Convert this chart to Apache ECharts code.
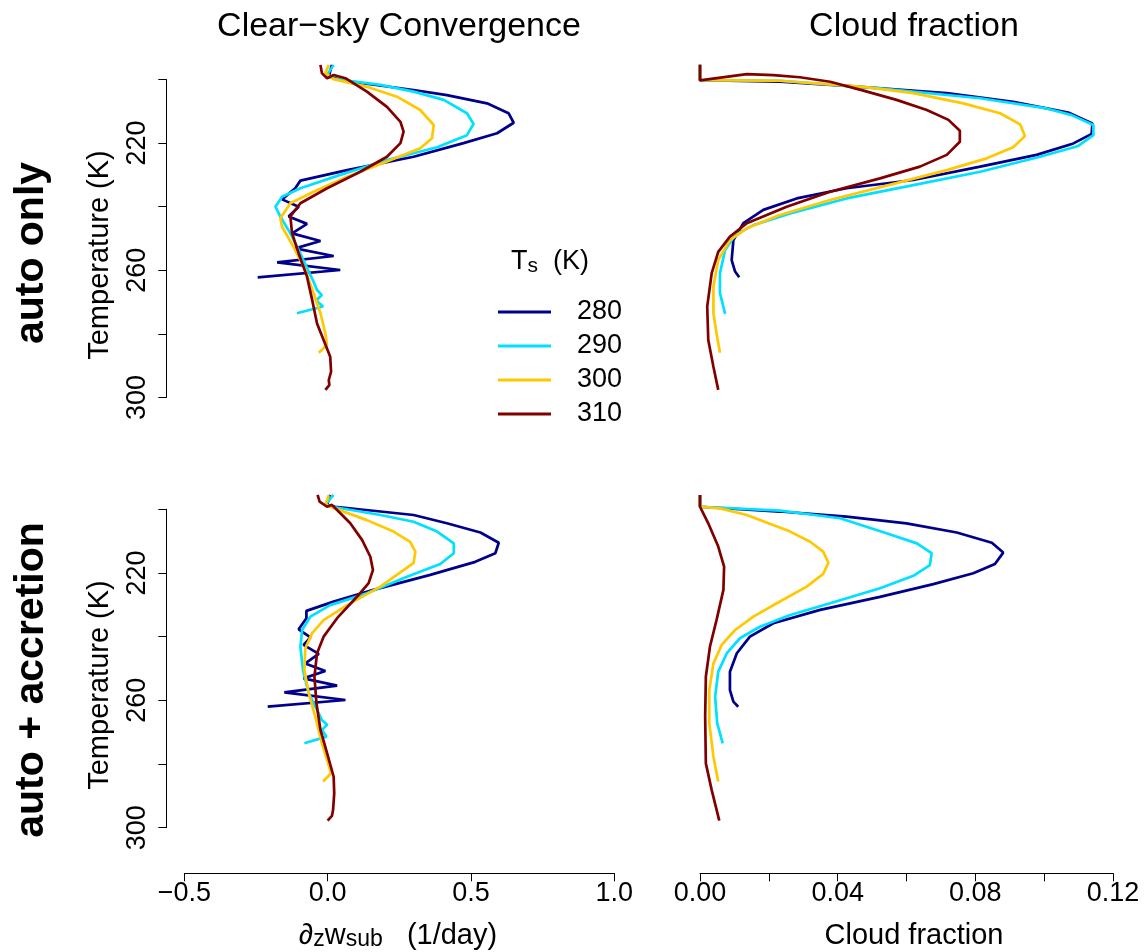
<!DOCTYPE html>
<html lang="en">

<head>
  <meta charset="UTF-8">
  <script src="https://cdn.jsdelivr.net/npm/echarts@6/dist/echarts.min.js"></script>
</head>

<body style="margin:0;background:#fff;">
  <div id="profilesChart" style="width:1145px;height:952px;"></div>

  <script type="text/javascript">

    // surface temperatures, one line per value
    var surfaceTemps = ['280', '290', '300', '310'];
    var lineColors = ['#00008B', '#00E0FF', '#FFC800', '#800000'];

    // tick labels that are printed
    var tempLabels = [220, 260, 300];
    var convLabels = [-0.5, 0.0, 0.5, 1.0];
    var cloudLabels = [0.00, 0.04, 0.08, 0.12];

    // [value, temperature K] -- auto only, clear-sky convergence (1/day)
    var convAuto280 = [[0.015,195.4],[0.004,199.1],[0.056,200.4],[0.30,203.3],[0.416,204.9],[0.556,207.5],[0.631,210.6],[0.649,213.6],[0.591,216.9],[0.474,220],[0.30,224.3],[0.068,228.5],[-0.095,231.8],[-0.113,234.2],[-0.159,237.7],[-0.101,240],[-0.136,243.1],[-0.072,245.4],[-0.124,248.4],[-0.025,250.8],[-0.113,253.1],[0.021,255.5],[-0.176,257.5],[0.044,259.9],[-0.244,262.2]];
    var convAuto290 = [[0.021,195.4],[-0.002,198.6],[0.027,199.9],[0.184,201.7],[0.30,203.8],[0.405,206.4],[0.486,210.6],[0.509,214],[0.486,217.5],[0.382,221.3],[0.207,225.3],[0.044,230],[-0.095,234.2],[-0.159,236.9],[-0.182,240],[-0.165,243.1],[-0.130,248.4],[-0.095,254.7],[-0.066,260.4],[-0.049,263.6],[-0.037,266.2],[-0.020,267.8],[-0.040,269.5],[-0.016,271.4],[-0.107,273.5]];
    var convAuto300 = [[0.004,195.4],[-0.008,198],[0.02,199.9],[0.137,202.3],[0.242,205.4],[0.323,209.6],[0.370,214.3],[0.364,218.5],[0.323,221.6],[0.207,225.8],[0.068,230.6],[-0.049,235.3],[-0.130,238.9],[-0.165,243.6],[-0.159,246.3],[-0.119,252.6],[-0.078,259.9],[-0.049,267.2],[-0.025,273.5],[-0.008,279.8],[-0.002,283.5],[-0.031,285.9]];
    var convAuto310 = [[-0.025,195.4],[-0.020,198],[-0.002,199.6],[0.021,198.6],[0.062,199.6],[0.137,203.8],[0.207,208.6],[0.254,213.3],[0.265,216.4],[0.254,220],[0.207,224.3],[0.114,229],[-0.002,234.2],[-0.095,238.9],[-0.130,243.1],[-0.124,248.4],[-0.101,254.7],[-0.072,262],[-0.054,269.3],[-0.037,276.7],[-0.014,281.9],[0.009,287.2],[0.012,291.9],[0.004,294.5],[0.006,296.1],[-0.008,297.6]];

    // auto only, cloud fraction
    var cloudAuto280 = [[0,195.4],[0,200.2],[0.0232,200.7],[0.0426,202],[0.0717,204.3],[0.091,207],[0.107,210.4],[0.114,213.8],[0.1138,217.1],[0.1085,220.1],[0.0978,223.7],[0.0814,227.4],[0.062,231.6],[0.0426,234.2],[0.0281,237.4],[0.0184,241],[0.0126,245.2],[0.0097,250.5],[0.0092,256.8],[0.0102,260.4],[0.0114,262.2]];
    var cloudAuto290 = [[0,195.4],[0,200.2],[0.0232,200.4],[0.0523,202.8],[0.0814,205.9],[0.1007,209.1],[0.108,211.2],[0.1143,214.3],[0.1143,217.5],[0.1099,220.9],[0.0988,224.3],[0.0814,229],[0.062,233.2],[0.0426,237.4],[0.0262,242.1],[0.0155,245.8],[0.0102,248.9],[0.0073,253.6],[0.0058,260.9],[0.0058,267.2],[0.0073,273.7]];
    var cloudAuto300 = [[0,195.4],[0,200.2],[0.0232,200.4],[0.0475,202.3],[0.062,204.3],[0.0765,207.5],[0.0872,210.6],[0.093,214.1],[0.0944,217.8],[0.091,221.3],[0.0833,224.8],[0.0717,228.5],[0.0571,232.6],[0.0378,237.9],[0.0232,242.6],[0.0136,246.8],[0.0087,250.5],[0.0053,256.8],[0.0039,265.2],[0.0039,273.5],[0.0048,279.8],[0.0058,285.9]];
    var cloudAuto310 = [[0,195.4],[0,200.3],[0.0136,198.3],[0.0213,198.6],[0.029,199.3],[0.0378,200.7],[0.0475,203.5],[0.0571,206.4],[0.0659,209.6],[0.0722,212.7],[0.0755,216.1],[0.0755,219.6],[0.0717,223.7],[0.0639,227.4],[0.0523,231.1],[0.0378,235.3],[0.0252,240],[0.0136,245.2],[0.0087,249.4],[0.0053,254.2],[0.0034,260.9],[0.0021,271.4],[0.0024,281.9],[0.0039,290.3],[0.0053,297.6]];

    // auto + accretion, clear-sky convergence
    var convAccr280 = [[0.009,195.5],[-0.002,198.6],[0.027,199.2],[0.30,201.8],[0.416,204.4],[0.533,207.3],[0.597,210.5],[0.585,213.8],[0.515,216.5],[0.358,220.6],[0.16,225.3],[0.021,229],[-0.074,231.9],[-0.074,234.2],[-0.101,237.7],[-0.06,240.2],[-0.084,242.6],[-0.031,245.4],[-0.078,248.4],[-0.008,250.8],[-0.084,253.1],[0.033,255.4],[-0.151,257.5],[0.062,259.9],[-0.209,262]];
    var convAccr290 = [[0.02,195.5],[-0.008,198.6],[0.016,199.2],[0.184,201.8],[0.30,203.9],[0.382,207],[0.44,210.7],[0.44,213.8],[0.393,217.2],[0.277,221.2],[0.137,226.4],[0.009,230.1],[-0.06,233.7],[-0.089,237.9],[-0.095,243.2],[-0.086,250.5],[-0.066,257.8],[-0.037,263],[-0.02,266.2],[-0.002,267.7],[-0.02,269.3],[-0.004,271.4],[-0.081,273.5]];
    var convAccr300 = [[0.004,195.6],[-0.008,198.6],[0.016,199.4],[0.137,203.4],[0.23,207],[0.288,210.2],[0.306,213.3],[0.30,216.8],[0.184,224.3],[0.068,230.1],[-0.014,234.8],[-0.054,238.9],[-0.078,243.7],[-0.081,250.5],[-0.066,257.8],[-0.043,265.1],[-0.02,273.5],[-0.002,278.7],[0.012,282.9],[-0.016,285.5]];
    var convAccr310 = [[-0.035,195.5],[-0.028,197.6],[-0.002,199.2],[0.015,198.6],[0.033,200.2],[0.079,204.4],[0.12,209.6],[0.149,214.9],[0.158,219.1],[0.143,223.2],[0.103,227.4],[0.033,234.2],[-0.014,240],[-0.037,245.2],[-0.046,252.6],[-0.039,260.9],[-0.025,269.3],[-0.002,276.6],[0.021,284],[0.023,289.2],[0.019,294.4],[0.015,296.3],[0,297.8]];

    // auto + accretion, cloud fraction
    var cloudAccr280 = [[0,195.5],[0,199.2],[0.0232,200.7],[0.0426,202.3],[0.06,204.4],[0.0746,207.3],[0.0848,210.5],[0.0881,213.6],[0.0857,217.2],[0.0794,220.1],[0.0678,223.5],[0.0523,227.5],[0.0349,231.6],[0.0213,235.8],[0.0145,240],[0.0107,245.2],[0.0087,251],[0.0087,256.8],[0.0097,260.4],[0.0111,262]];
    var cloudAccr290 = [[0,195.5],[0,199.2],[0.0232,200.4],[0.0407,202.8],[0.0542,207.5],[0.063,210.7],[0.0673,213.8],[0.0668,217.5],[0.062,220.9],[0.0523,224.8],[0.0378,229.5],[0.0262,233.2],[0.0174,236.9],[0.0116,240.5],[0.0078,245.2],[0.0053,251],[0.0044,258.9],[0.005,267.2],[0.0066,273.5]];
    var cloudAccr300 = [[0,195.5],[0,199.2],[0.0058,199.7],[0.0136,201.8],[0.0262,207],[0.032,210.2],[0.0358,213.3],[0.0373,216.8],[0.0358,220.3],[0.031,224.3],[0.0223,229.5],[0.0155,233.7],[0.0102,237.9],[0.0063,242.6],[0.0039,248.4],[0.0027,256.8],[0.0027,267.2],[0.0039,277.7],[0.0053,285.5]];
    var cloudAccr310 = [[0,195.5],[0,199.2],[0.0024,204.4],[0.0053,211.7],[0.007,218],[0.0068,225.3],[0.0048,234.8],[0.0029,243.1],[0.0017,252.6],[0.0015,265.1],[0.0017,279.8],[0.0034,288.2],[0.0056,297.8]];

    var FONT = "'Liberation Sans', Arial, Helvetica, sans-serif";

    var panels = [
      [convAuto280, convAuto290, convAuto300, convAuto310],
      [cloudAuto280, cloudAuto290, cloudAuto300, cloudAuto310],
      [convAccr280, convAccr290, convAccr300, convAccr310],
      [cloudAccr280, cloudAccr290, cloudAccr300, cloudAccr310]
    ];

    function isLabel(list, value) {
      return list.some(v => Math.abs(v - value) < 1e-9);
    }

    function createProfilesChart() {
      const chart = echarts.init(document.getElementById('profilesChart'));

      const series = [];
      panels.forEach((lines, p) => {
        lines.forEach((data, i) => {
          series.push({
            name: surfaceTemps[i],
            type: 'line',
            xAxisIndex: p,
            yAxisIndex: p,
            data: data,
            symbol: 'none',
            clip: false,
            lineStyle: { color: lineColors[i], width: 2.7 },
            itemStyle: { color: lineColors[i] }
          });
        });
      });

      const tempAxis = (grid, show) => ({
        type: 'value',
        gridIndex: grid,
        inverse: true,
        min: 200,
        max: 300,
        interval: 20,
        show: show,
        position: 'left',
        offset: 18,
        splitLine: { show: false },
        axisLine: { show: true, onZero: false, lineStyle: { color: '#000', width: 1 } },
        axisTick: { show: true, length: 8, lineStyle: { color: '#000' } },
        axisLabel: {
          rotate: 90,
          margin: 15,
          color: '#000',
          fontSize: 27,
          fontFamily: FONT,
          formatter: v => isLabel(tempLabels, v) ? String(v) : ''
        }
      });

      const convAxis = (grid, show) => ({
        type: 'value',
        gridIndex: grid,
        min: -0.5,
        max: 1.0,
        interval: 0.5,
        show: show,
        position: 'bottom',
        offset: 45.6,
        splitLine: { show: false },
        axisLine: { show: true, onZero: false, lineStyle: { color: '#000', width: 1 } },
        axisTick: { show: true, length: 8, lineStyle: { color: '#000' } },
        axisLabel: {
          margin: 7,
          color: '#000',
          fontSize: 27,
          fontFamily: FONT,
          formatter: v => isLabel(convLabels, v) ? v.toFixed(1).replace('-', '\u2212') : ''
        }
      });

      const cloudAxis = (grid, show) => ({
        type: 'value',
        gridIndex: grid,
        min: 0,
        max: 0.12,
        interval: 0.02,
        show: show,
        position: 'bottom',
        offset: 45.6,
        splitLine: { show: false },
        axisLine: { show: true, onZero: false, lineStyle: { color: '#000', width: 1 } },
        axisTick: { show: true, length: 8, lineStyle: { color: '#000' } },
        axisLabel: {
          margin: 7,
          color: '#000',
          fontSize: 27,
          fontFamily: FONT,
          showMinLabel: true,
          showMaxLabel: true,
          formatter: v => isLabel(cloudLabels, v) ? v.toFixed(2) : ''
        }
      });

      const txt = (text, x, y, size, extra) => Object.assign({
        type: 'text',
        x: x,
        y: y,
        silent: true,
        style: {
          text: text,
          fontSize: size,
          fontFamily: FONT,
          fill: '#000',
          align: 'center',
          verticalAlign: 'middle'
        }
      }, extra || {});

      const boldTxt = (text, x, y) => txt(text, x, y, 41, {
        rotation: Math.PI / 2,
        style: { text: text, fontSize: 41, fontWeight: 'bold', fontFamily: FONT, fill: '#000', align: 'center', verticalAlign: 'middle' }
      });

      const subRich = (base, sub) => ({
        b: { fontSize: base, fontFamily: FONT, lineHeight: 30, color: '#000' },
        s: { fontSize: sub, fontFamily: FONT, lineHeight: 15, verticalAlign: 'bottom', color: '#000' }
      });

      const xLabel = txt('{b|\u2202}{s|z}{b|w}{s|sub}{b|   (1/day)}', 398, 936, 29);
      xLabel.style.rich = subRich(29, 23);

      const legendTitle = txt('{b|T}{s|s}{b|  (K)}', 511, 262, 27);
      legendTitle.style.align = 'left';
      legendTitle.style.rich = subRich(27, 21);

      let option = {
        animation: false,
        backgroundColor: '#fff',
        grid: [
          { left: 184.3, top: 79.5, width: 430, height: 318 },
          { left: 700, top: 79.5, width: 413, height: 318 },
          { left: 184.3, top: 509.3, width: 430, height: 318.4 },
          { left: 700, top: 509.3, width: 413, height: 318.4 }
        ],
        xAxis: [convAxis(0, false), cloudAxis(1, false), convAxis(2, true), cloudAxis(3, true)],
        yAxis: [tempAxis(0, true), tempAxis(1, false), tempAxis(2, true), tempAxis(3, false)],
        legend: {
          data: surfaceTemps,
          orient: 'vertical',
          left: 493,
          top: 290,
          icon: 'rect',
          itemWidth: 53,
          itemHeight: 3,
          itemGap: 0,
          selectedMode: false,
          textStyle: {
            fontSize: 27,
            fontFamily: FONT,
            color: '#000',
            lineHeight: 34,
            padding: [0, 0, 0, 21]
          }
        },
        graphic: [
          txt('Clear\u2212sky Convergence', 399, 27, 34),
          txt('Cloud fraction', 914, 27, 34),
          xLabel,
          txt('Cloud fraction', 914, 936, 29),
          legendTitle,
          boldTxt('auto only', 32, 253),
          boldTxt('auto + accretion', 32, 680),
          txt('Temperature (K)', 100, 255, 29, { rotation: Math.PI / 2 }),
          txt('Temperature (K)', 100, 685, 29, { rotation: Math.PI / 2 })
        ],
        series: series
      };

      chart.setOption(option);
    }
    createProfilesChart();
  </script>
</body>

</html>
